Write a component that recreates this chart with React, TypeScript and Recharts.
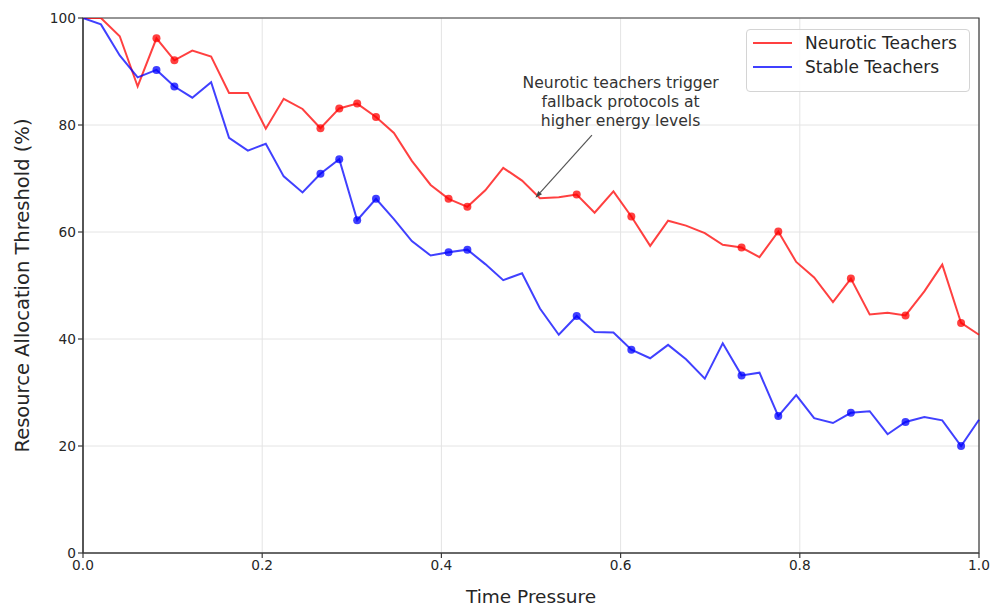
import {
  LineChart,
  Line,
  XAxis,
  YAxis,
  CartesianGrid,
  ReferenceLine,
  ReferenceDot,
  ReferenceArea,
} from 'recharts'

const WIDTH = 992
const HEIGHT = 608
const FONT = '"DejaVu Sans", Verdana, sans-serif'

// Time pressure samples (50 evenly spaced points between 0 and 1)
const timePressure = [
  0, 0.02, 0.041, 0.061, 0.082, 0.102, 0.122, 0.143, 0.163, 0.184,
  0.204, 0.224, 0.245, 0.265, 0.286, 0.306, 0.327, 0.347, 0.367, 0.388,
  0.408, 0.429, 0.449, 0.469, 0.49, 0.51, 0.531, 0.551, 0.571, 0.592,
  0.612, 0.633, 0.653, 0.673, 0.694, 0.714, 0.735, 0.755, 0.776, 0.796,
  0.816, 0.837, 0.857, 0.878, 0.898, 0.918, 0.939, 0.959, 0.98, 1.0,
]

const neuroticValues = [
  100, 100, 96.6, 87.2, 96.2, 92.1, 93.9, 92.8, 86.0, 86.0,
  79.3, 84.9, 83.0, 79.4, 83.1, 84.0, 81.5, 78.5, 73.3, 68.8,
  66.2, 64.7, 67.8, 72.0, 69.6, 66.3, 66.5, 67.0, 63.6, 67.6,
  62.9, 57.4, 62.1, 61.2, 59.8, 57.6, 57.1, 55.3, 60.1, 54.4,
  51.5, 46.9, 51.3, 44.6, 44.9, 44.4, 48.9, 53.9, 43.0, 40.8,
]

const stableValues = [
  100, 98.8, 93.0, 88.9, 90.3, 87.2, 85.1, 88.0, 77.6, 75.2,
  76.5, 70.4, 67.4, 70.9, 73.6, 62.2, 66.2, 62.4, 58.3, 55.6,
  56.2, 56.7, 54.0, 51.0, 52.3, 45.7, 40.8, 44.3, 41.3, 41.2,
  38.0, 36.4, 38.9, 36.2, 32.6, 39.2, 33.2, 33.7, 25.6, 29.5,
  25.2, 24.3, 26.2, 26.5, 22.2, 24.5, 25.4, 24.8, 20.0, 24.9,
]

// indices of the points drawn with a marker
const markerIndices = [4, 5, 13, 14, 15, 16, 20, 21, 27, 30, 36, 38, 42, 45, 48]

const xTicks = [0, 0.2, 0.4, 0.6, 0.8, 1.0]
const yTicks = [0, 20, 40, 60, 80, 100]

const series = [
  { key: 'neurotic', name: 'Neurotic Teachers', color: 'red' },
  { key: 'stable', name: 'Stable Teachers', color: 'blue' },
]

const annotationLines = [
  'Neurotic teachers trigger',
  'fallback protocols at',
  'higher energy levels',
]
const annotationText = { x: 0.6, y: 84.3 }
const arrowStart = { x: 0.568, y: 78.1 }
const arrowTip = { x: 0.505, y: 66.4 }

const data = timePressure.map((t, i) => ({
  t,
  neurotic: neuroticValues[i],
  stable: stableValues[i],
}))

const SPINE = '#3a3a3a'
const TICK_STYLE = { fontSize: 13.7, fill: '#262626', fontFamily: FONT }

const makeDot = (color: string) => (props: any) => {
  const { cx, cy, index } = props
  if (!markerIndices.includes(index)) return <g key={`d-${color}-${index}`} />
  return (
    <circle
      key={`d-${color}-${index}`}
      cx={cx}
      cy={cy}
      r={4}
      fill={color}
      fillOpacity={0.75}
      stroke="none"
    />
  )
}

const ArrowShape = (props: any) => {
  const { x1, y1, x2, y2 } = props
  const ang = Math.atan2(y2 - y1, x2 - x1)
  const len = 7
  const w = 2.5
  const bx = x2 - len * Math.cos(ang)
  const by = y2 - len * Math.sin(ang)
  const px = -Math.sin(ang) * w
  const py = Math.cos(ang) * w
  return (
    <g>
      <line x1={x1} y1={y1} x2={bx} y2={by} stroke="#555" strokeWidth={1.2} />
      <polygon
        points={`${x2},${y2} ${bx + px},${by + py} ${bx - px},${by - py}`}
        fill="#444"
      />
    </g>
  )
}

const AnnotationText = (props: any) => {
  const { cx, cy } = props
  return (
    <text
      x={cx}
      y={cy}
      textAnchor="middle"
      fontFamily={FONT}
      fontSize={15.6}
      fill="#333"
    >
      {annotationLines.map((line, i) => (
        <tspan key={i} x={cx} y={cy + (i - 1) * 19} dominantBaseline="central">
          {line}
        </tspan>
      ))}
    </text>
  )
}

export default function App() {
  return (
    <div
      style={{
        position: 'absolute',
        left: 0,
        top: 0,
        width: WIDTH,
        height: HEIGHT,
        background: '#fff',
      }}
    >
      <LineChart
        width={WIDTH}
        height={HEIGHT}
        data={data}
        margin={{ top: 18, right: 13, bottom: 10, left: 10 }}
      >
        <CartesianGrid stroke="#e4e4e4" strokeWidth={1} />
        <XAxis
          dataKey="t"
          type="number"
          domain={[0, 1]}
          ticks={xTicks}
          tickFormatter={(v: number) => v.toFixed(1)}
          height={45}
          tick={TICK_STYLE}
          tickSize={5}
          tickMargin={2}
          stroke={SPINE}
          strokeWidth={1.2}
          label={{
            content: ({ viewBox }: any) => (
              <text
                x={viewBox.x + viewBox.width / 2}
                y={viewBox.y + 43}
                textAnchor="middle"
                dominantBaseline="central"
                fontFamily={FONT}
                fontSize={18.5}
                fill="#262626"
              >
                Time Pressure
              </text>
            ),
          }}
        />
        <YAxis
          type="number"
          domain={[0, 100]}
          ticks={yTicks}
          allowDataOverflow
          width={73}
          tick={TICK_STYLE}
          tickSize={5}
          tickMargin={2}
          stroke={SPINE}
          strokeWidth={1.2}
          label={{
            content: ({ viewBox }: any) => {
              const x = viewBox.x + 12
              const y = viewBox.y + viewBox.height / 2
              return (
                <text
                  x={x}
                  y={y}
                  transform={`rotate(-90, ${x}, ${y})`}
                  textAnchor="middle"
                  dominantBaseline="central"
                  fontFamily={FONT}
                  fontSize={19.5}
                  fill="#262626"
                >
                  Resource Allocation Threshold (%)
                </text>
              )
            },
          }}
        />
        {/* frame around the plot area */}
        <ReferenceArea
          x1={0}
          x2={1}
          y1={0}
          y2={100}
          fill="none"
          fillOpacity={0}
          stroke={SPINE}
          strokeWidth={1.2}
          strokeOpacity={1}
          ifOverflow="visible"
        />
        {series.map((s) => (
          <Line
            key={s.key}
            type="linear"
            dataKey={s.key}
            name={s.name}
            stroke={s.color}
            strokeOpacity={0.75}
            strokeWidth={2}
            dot={makeDot(s.color)}
            activeDot={false}
            isAnimationActive={false}
          />
        ))}
        <ReferenceLine
          segment={[arrowStart, arrowTip]}
          shape={ArrowShape}
          ifOverflow="visible"
        />
        <ReferenceDot
          x={annotationText.x}
          y={annotationText.y}
          r={0}
          shape={AnnotationText}
          ifOverflow="visible"
        />
      </LineChart>
      <div
        style={{
          position: 'absolute',
          left: 746,
          top: 29,
          width: 222,
          height: 60,
          border: '1px solid #d4d4d4',
          borderRadius: 4,
          background: 'rgba(255,255,255,0.85)',
          paddingTop: 1,
          fontFamily: FONT,
          fontSize: 17,
          color: '#262626',
        }}
      >
        {series.map((s) => (
          <div
            key={s.key}
            style={{ display: 'flex', alignItems: 'center', height: 24 }}
          >
            <div
              style={{
                width: 39,
                height: 2,
                marginLeft: 6,
                marginRight: 13,
                background: s.color,
                opacity: 0.75,
              }}
            />
            <span>{s.name}</span>
          </div>
        ))}
      </div>
    </div>
  )
}
